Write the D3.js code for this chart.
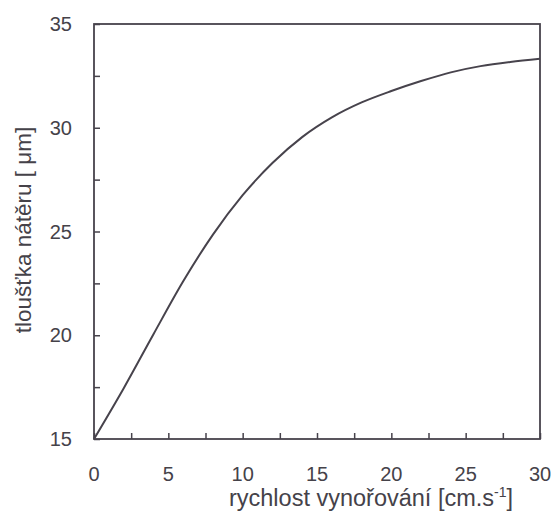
<!DOCTYPE html>
<html>
<head>
<meta charset="utf-8">
<script src="https://cdnjs.cloudflare.com/ajax/libs/d3/7.8.5/d3.min.js"></script>
<style>
	body { margin: 0; background: #fff; }
	svg text { font-family: Arial, "Liberation Sans", sans-serif; fill: #454249; }
</style>
</head>
<body>
<div id="chart"></div>
<script>
// emersion speed [cm/s] and coating thickness [um]
var speed = [0, 2, 4, 6, 8, 10, 12, 14, 16, 18, 20, 22, 24, 26, 28, 30];
var thickness = [15, 17.45, 20.05, 22.6, 24.85, 26.75, 28.3, 29.55, 30.5, 31.22,
	31.77, 32.25, 32.67, 32.97, 33.17, 33.32];

var xTicks = [0, 5, 10, 15, 20, 25, 30];
var yTicks = [15, 20, 25, 30, 35];
var xLabel = 'rychlost vynořování [cm.s';
var yLabel = 'tloušťka nátěru [ μm]';

var width = 555,
	height = 513,
	margin = { top: 24, right: 15, bottom: 74, left: 94 };

var drawWidth = width - margin.left - margin.right;
var drawHeight = height - margin.top - margin.bottom;
var ink = '#47434c';

var xScale = d3.scaleLinear().domain([0, 30]).range([0, drawWidth]);
var yScale = d3.scaleLinear().domain([15, 35]).range([drawHeight, 0]);

var svg = d3.select('#chart').append('svg')
	.attr('width', width)
	.attr('height', height);

var g = svg.append('g')
	.attr('transform', 'translate(' + margin.left + ',' + margin.top + ')');

// minor ticks every 2.5, pointing inward
var xAxis = d3.axisTop(xScale).tickValues(d3.range(0, 30.01, 2.5)).tickSize(6).tickFormat('');
var yAxis = d3.axisRight(yScale).tickValues(d3.range(15, 35.01, 2.5)).tickSize(6).tickFormat('');

g.append('g')
	.attr('transform', 'translate(0,' + drawHeight + ')')
	.call(xAxis)
	.call(function(s) {
		s.select('.domain').remove();
		s.selectAll('line').attr('stroke', ink).attr('stroke-width', 1.5);
	});

g.append('g')
	.call(yAxis)
	.call(function(s) {
		s.select('.domain').remove();
		s.selectAll('line').attr('stroke', ink).attr('stroke-width', 1.5);
	});

// frame
g.append('rect')
	.attr('width', drawWidth)
	.attr('height', drawHeight)
	.attr('fill', 'none')
	.attr('stroke', ink)
	.attr('stroke-width', 1.8);

// tick labels
g.selectAll('.xlab').data(xTicks).enter().append('text')
	.attr('class', 'xlab')
	.attr('x', (d) => xScale(d))
	.attr('y', drawHeight + 42)
	.attr('text-anchor', 'middle')
	.style('font-size', '20px')
	.text((d) => d);

g.selectAll('.ylab').data(yTicks).enter().append('text')
	.attr('class', 'ylab')
	.attr('x', -22)
	.attr('y', (d) => yScale(d) + 7)
	.attr('text-anchor', 'end')
	.style('font-size', '20px')
	.text((d) => d);

// curve
var line = d3.line()
	.x((d, i) => xScale(speed[i]))
	.y((d) => yScale(d))
	.curve(d3.curveMonotoneX);

g.append('path')
	.datum(thickness)
	.attr('d', line)
	.attr('fill', 'none')
	.attr('stroke', ink)
	.attr('stroke-width', 2);

// axis titles
var xt = svg.append('text')
	.attr('x', 371)
	.attr('y', 506)
	.attr('text-anchor', 'middle')
	.style('font-size', '23.5px');
xt.append('tspan').text(xLabel);
xt.append('tspan').attr('dy', -9).style('font-size', '14px').text('-1');
xt.append('tspan').attr('dy', 9).text(']');

svg.append('text')
	.attr('transform', 'translate(31,230) rotate(-90)')
	.attr('text-anchor', 'middle')
	.style('font-size', '22.5px')
	.text(yLabel);
</script>
</body>
</html>
